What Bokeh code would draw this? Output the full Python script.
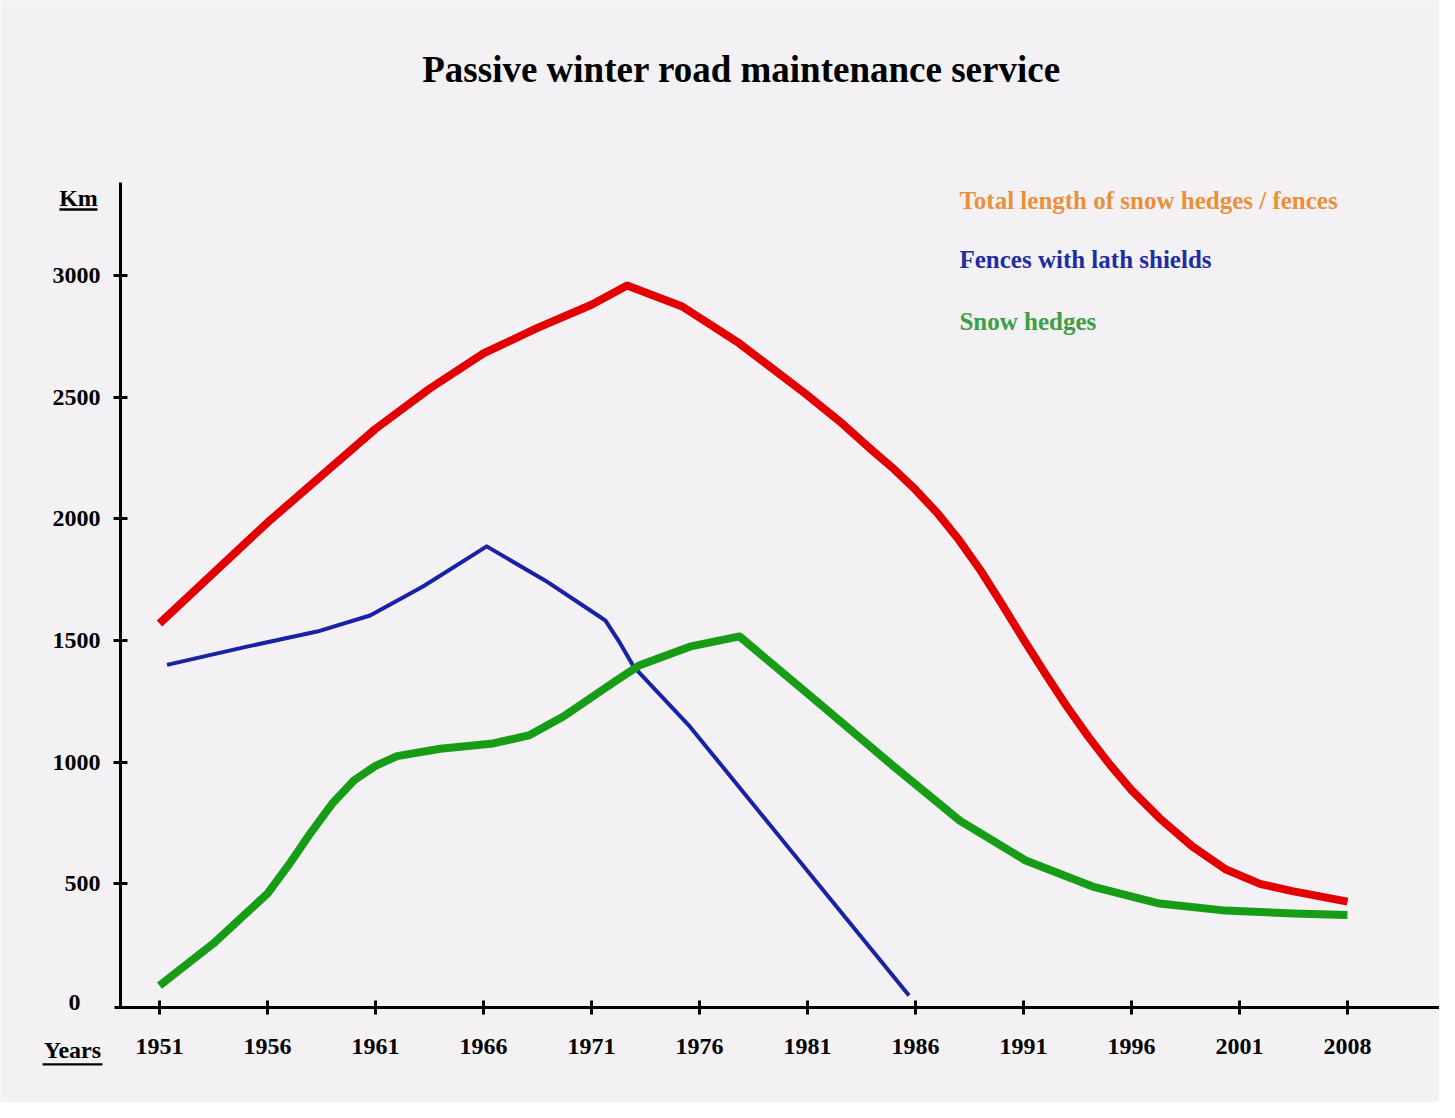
from bokeh.plotting import figure
from bokeh.models import Label, BoxAnnotation, Range1d
from bokeh.embed import file_html
from bokeh.resources import INLINE

# Tick slots (evenly spaced on the axis, last one is 2008)
year_labels = ["1951", "1956", "1961", "1966", "1971", "1976",
               "1981", "1986", "1991", "1996", "2001", "2008"]
y_ticks = [500, 1000, 1500, 2000, 2500, 3000]

# Positions are in tick-slot units (0 = 1951, 1 = 1956, ... 11 = 2008)
total_x = [0.0, 1.0, 2.0, 2.5, 3.0, 3.5, 4.0, 4.33, 4.84, 5.37, 5.98, 6.3,
           6.6, 6.8, 7.0, 7.2, 7.4, 7.6, 7.8, 8.0, 8.2, 8.4, 8.6, 8.8, 9.0,
           9.26, 9.56, 9.87, 10.19, 10.49, 11.0]
total_km = [1570, 1985, 2370, 2535, 2680, 2785, 2880, 2959, 2873, 2721, 2515,
            2400, 2281, 2205, 2120, 2025, 1915, 1790, 1650, 1505, 1365, 1230,
            1105, 990, 885, 770, 655, 560, 500, 470, 427]

fences_x = [0.07, 0.81, 1.46, 1.95, 2.44, 3.03, 3.57, 4.06, 4.13, 4.25, 4.39,
            4.91, 6.94]
fences_km = [1400, 1475, 1537, 1603, 1722, 1887, 1747, 1603, 1582, 1500, 1393,
             1147, 41]

hedges_x = [0.0, 0.5, 1.0, 1.2, 1.4, 1.6, 1.8, 2.0, 2.2, 2.6, 3.09, 3.42, 3.74,
            4.23, 4.44, 4.91, 5.37, 6.11, 6.79, 7.41, 8.02, 8.64, 9.26, 9.87,
            10.5, 11.0]
hedges_km = [82, 255, 460, 580, 710, 830, 925, 985, 1025, 1055, 1077, 1110,
             1188, 1336, 1397, 1475, 1517, 1241, 986, 760, 596, 489, 419, 390,
             378, 372]

series_names = ["Total length of snow hedges / fences",
                "Fences with lath shields",
                "Snow hedges"]

FONT = "Liberation Serif"
BG = "#f3f1f4"

p = figure(width=1439, height=1102, output_backend="svg", toolbar_location=None,
           x_range=Range1d(-1.472, 11.852), y_range=Range1d(-398.7, 4130.7),
           min_border=0, min_border_left=0, min_border_right=0,
           min_border_top=0, min_border_bottom=0)
p.background_fill_color = BG
p.border_fill_color = BG
p.outline_line_color = None
p.grid.visible = False

for ax in (p.xaxis[0], p.yaxis[0]):
    ax.axis_line_width = 3
    ax.axis_line_color = "black"
    ax.major_tick_line_width = 3
    ax.major_tick_line_color = "black"
    ax.major_tick_in = 7
    ax.major_tick_out = 7
    ax.minor_tick_line_color = None
    ax.major_label_text_font = FONT
    ax.major_label_text_font_style = "bold"
    ax.major_label_text_font_size = "24px"
    ax.major_label_text_color = "black"

p.xaxis.fixed_location = -8
p.xaxis.bounds = (-0.417, 11.852)
p.xaxis.ticker = list(range(len(year_labels)))
p.xaxis.major_label_overrides = {i: t for i, t in enumerate(year_labels)}
p.xaxis.major_label_standoff = 25

p.yaxis.fixed_location = -0.361
p.yaxis.bounds = (-8, 3383)
p.yaxis.ticker = y_ticks
p.yaxis.major_label_standoff = 13

p.line(total_x, total_km, line_width=8, color="#e30000", line_join="round",
       line_cap="butt")
p.line(fences_x, fences_km, line_width=4, color="#1722a5", line_join="round",
       line_cap="butt")
p.line(hedges_x, hedges_km, line_width=8, color="#169c16", line_join="round",
       line_cap="butt")

def lab(x, y, text, size, color="black", align="left"):
    p.add_layout(Label(x=x, y=y, text=text, text_font=FONT,
                       text_font_style="bold", text_font_size=size,
                       text_color=color, text_align=align,
                       text_baseline="middle"))

lab(5.389, 3847, "Passive winter road maintenance service", "37px", align="center")
lab(7.407, 3309, series_names[0], "25px", color="#e8913a")
lab(7.407, 3066, series_names[1], "25px", color="#1e2ea0")
lab(7.407, 2811, series_names[2], "25px", color="#3d9e44")
lab(-0.75, 3317, "Km", "24px", align="center")
lab(-0.806, -181, "Years", "24px", align="center")
lab(-0.787, 12, "0", "24px", align="center")

# underlines of the axis captions
p.add_layout(BoxAnnotation(left=-0.926, right=-0.574, bottom=3267, top=3277,
                           fill_color="black", fill_alpha=1, line_color=None))
p.add_layout(BoxAnnotation(left=-1.083, right=-0.528, bottom=-247, top=-237,
                           fill_color="black", fill_alpha=1, line_color=None))

open("out.html", "w").write(file_html(p, INLINE))
